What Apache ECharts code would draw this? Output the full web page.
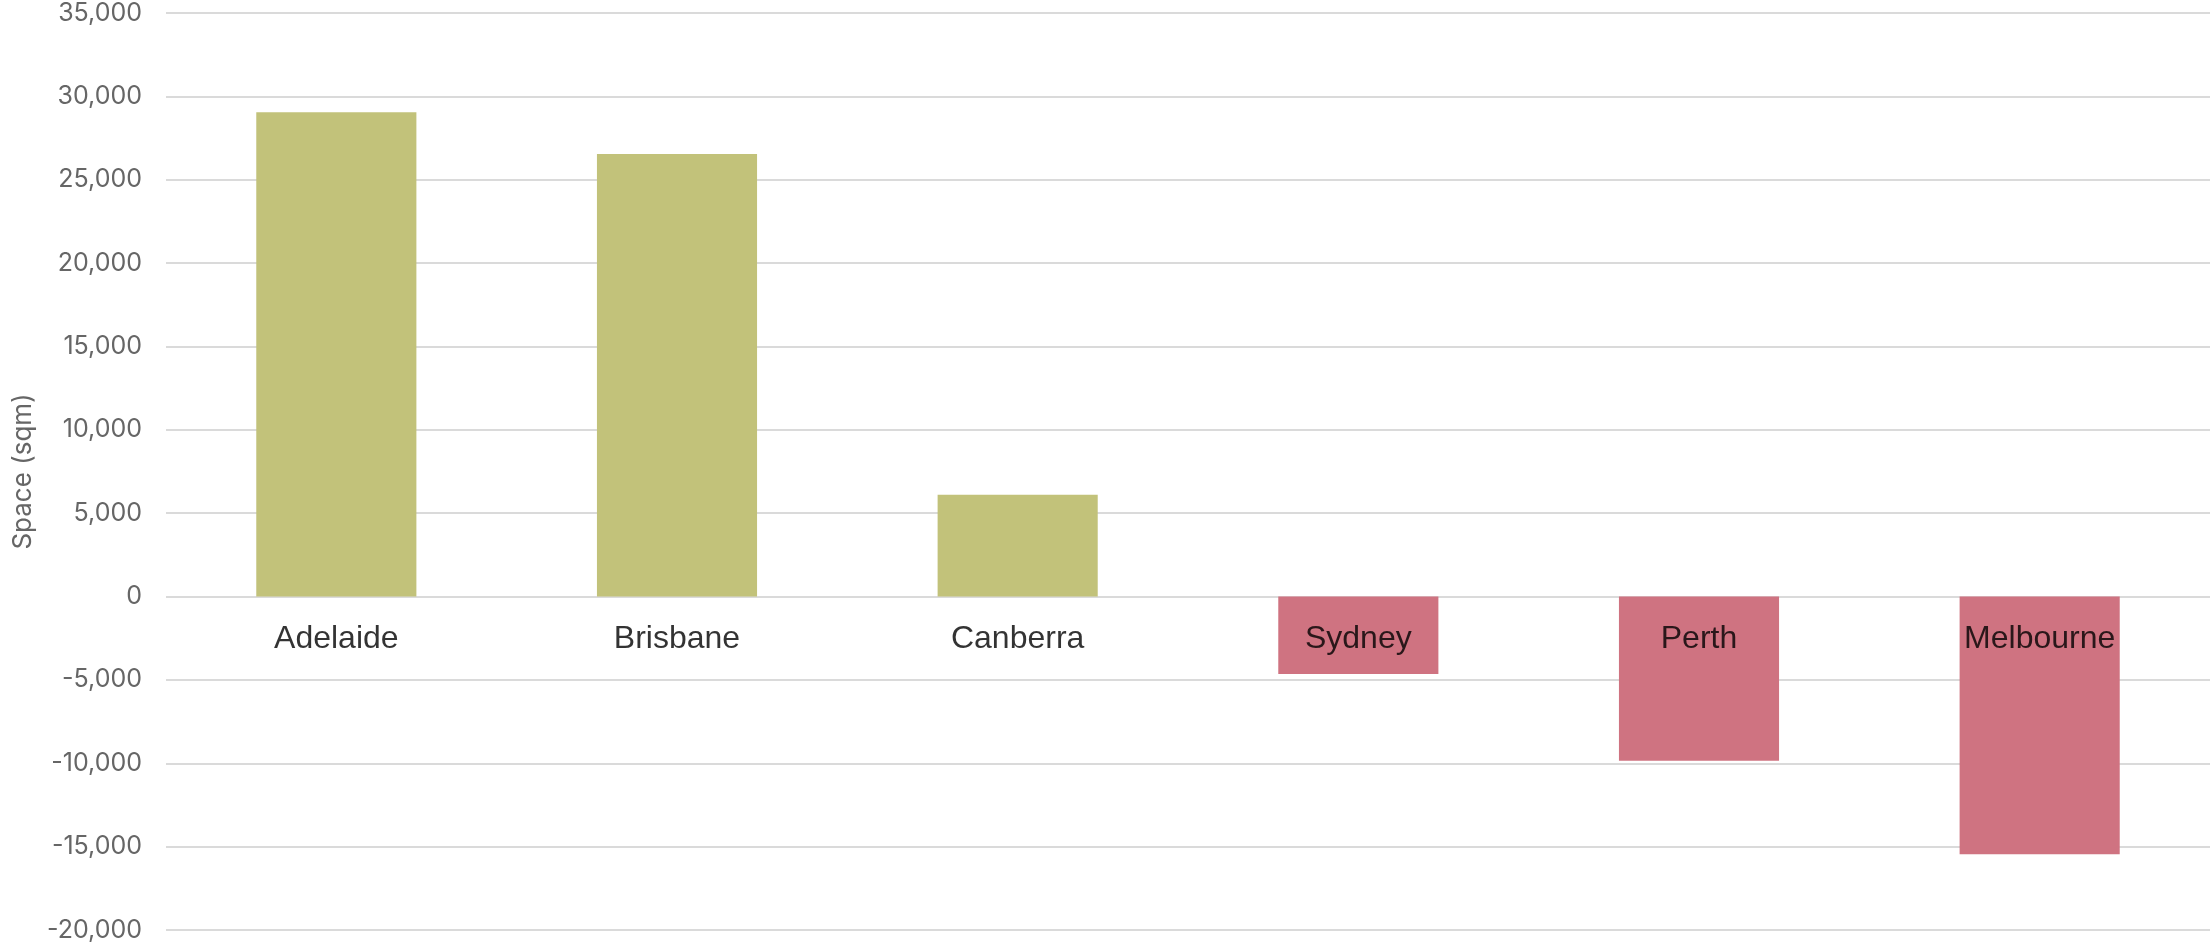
<!DOCTYPE html>
<html>
<head>
<meta charset="utf-8">
<title>Space change by city</title>
<script src="https://cdn.jsdelivr.net/npm/echarts@6/dist/echarts.min.js"></script>
<style>
  html, body { margin: 0; padding: 0; background: #ffffff; }
  #chart { width: 2210px; height: 945px; }
</style>
</head>
<body>
<div id="chart"></div>
<script>
// Cities along the category axis
const cities = ['Adelaide', 'Brisbane', 'Canberra', 'Sydney', 'Perth', 'Melbourne'];
// Net change in space (sqm) per city
const spaceSqm = [29050, 26550, 6100, -4650, -9850, -15450];
// Value axis range and step
const yMin = -20000;
const yMax = 35000;
const yStep = 5000;
// City names sit just under the zero line
const labelBaseline = 0;

const gainColor = '#c2c27a';
const lossColor = '#cf7381';
const gridColor = '#dadada';

const chart = echarts.init(document.getElementById('chart'), null, { renderer: 'canvas' });

chart.setOption({
  animation: false,
  backgroundColor: '#ffffff',
  grid: {
    left: 166, right: 0, top: 13, bottom: 15,
    containLabel: false,
    outerBoundsMode: 'none'
  },
  xAxis: {
    type: 'category',
    data: cities,
    axisLine: { show: false },
    axisTick: { show: false },
    axisLabel: { show: false },
    splitLine: { show: false }
  },
  yAxis: {
    type: 'value',
    min: yMin,
    max: yMax,
    interval: yStep,
    name: 'Space (sqm)',
    nameLocation: 'middle',
    nameGap: 128,
    nameTextStyle: {
      color: '#666666',
      fontSize: 26,
      fontFamily: 'Inter'
    },
    axisLine: { show: false },
    axisTick: { show: false },
    axisLabel: {
      margin: 24,
      align: 'right',
      width: 130,
      overflow: 'none',
      color: '#666666',
      fontSize: 25,
      fontFamily: 'Inter'
    },
    splitLine: { lineStyle: { color: gridColor, width: 2 } }
  },
  series: [
    {
      type: 'bar',
      data: spaceSqm,
      barWidth: '47%',
      z: 2,
      itemStyle: {
        color: p => (p.value >= 0 ? gainColor : lossColor)
      }
    },
    {
      // category names drawn at the zero line, above the bars
      type: 'scatter',
      data: cities.map(c => [c, labelBaseline]),
      symbolSize: 0,
      silent: true,
      z: 10,
      itemStyle: { color: 'rgba(0,0,0,0)' },
      label: {
        show: true,
        position: 'bottom',
        distance: 27,
        formatter: p => cities[p.dataIndex],
        color: '#000000',
        fontSize: 32,
        fontFamily: 'Liberation Sans, Arial, sans-serif'
      }
    }
  ]
});
</script>
</body>
</html>
